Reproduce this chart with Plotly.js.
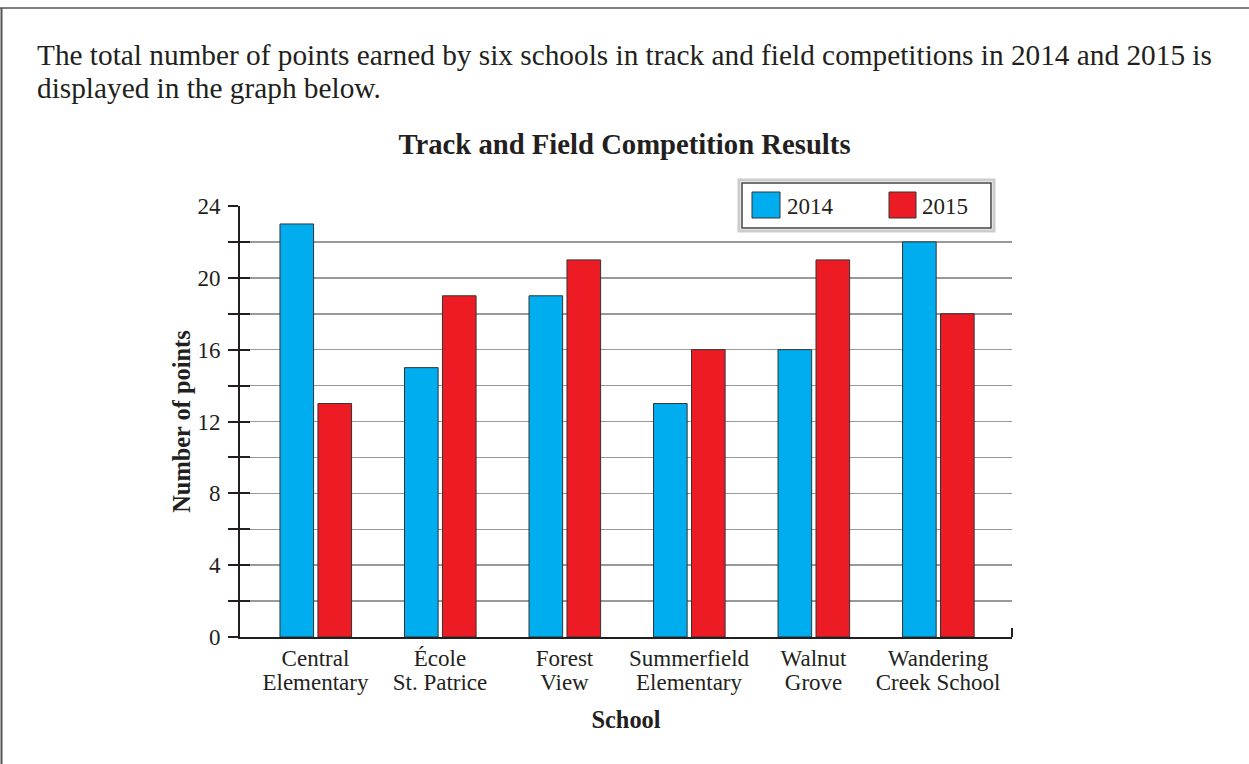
<!DOCTYPE html>
<html>
<head>
<meta charset="utf-8">
<script src="https://cdn.plot.ly/plotly-3.0.1.min.js"></script>
<style>
html,body{margin:0;padding:0;background:#fff;}
#chart{width:1249px;height:764px;}
</style>
</head>
<body>
<div id="chart"></div>
<script>
// ---- data ----
const schools = ['Central Elementary', 'École St. Patrice', 'Forest View', 'Summerfield Elementary', 'Walnut Grove', 'Wandering Creek School'];
const tickLine1 = ['Central', 'École', 'Forest', 'Summerfield', 'Walnut', 'Wandering'];
const tickLine2 = ['Elementary', 'St. Patrice', 'View', 'Elementary', 'Grove', 'Creek School'];
const points2014 = [23, 15, 19, 13, 16, 22];
const points2015 = [13, 19, 21, 16, 21, 18];
const seriesNames = ['2014', '2015'];
const yTicks = [0, 4, 8, 12, 16, 20, 24];

const chartTitle = 'Track and Field Competition Results';
const introLine1 = 'The total number of points earned by six schools in track and field competitions in 2014 and 2015 is';
const introLine2 = 'displayed in the graph below.';

// ---- style ----
const BLUE = '#00aeef', RED = '#ed1c24', INK = '#231f20', GRID = '#999999';
const FONT = 'Liberation Serif';

// plot area in pixels
const L = 240, R = 1012, T = 206, B = 637;
const px = x => (x - L) / (R - L);
const py = y => (B - y) / (B - T);

const traces = [
  {type: 'bar', name: seriesNames[0], x: schools, y: points2014, xaxis: 'x', yaxis: 'y',
   marker: {color: BLUE, line: {color: '#333', width: 1}}, width: 0.27, offset: -0.285, showlegend: false},
  {type: 'bar', name: seriesNames[1], x: schools, y: points2015, xaxis: 'x2', yaxis: 'y2',
   marker: {color: RED, line: {color: '#333', width: 1}}, width: 0.27, offset: 0.02, showlegend: false}
];

const shapes = [
  // page frame
  {type: 'line', xref: 'paper', yref: 'paper', x0: px(0), x1: px(1249), y0: py(8), y1: py(8), line: {color: '#555', width: 1.5}, layer: 'above'},
  {type: 'line', xref: 'paper', yref: 'paper', x0: px(1.5), x1: px(1.5), y0: py(8), y1: py(764), line: {color: '#555', width: 2}, layer: 'above'},
  // right end tick of x axis
  {type: 'line', xref: 'paper', yref: 'paper', x0: 1, x1: 1, y0: 0, y1: py(628), line: {color: INK, width: 2}, layer: 'above'},
  // legend box
  {type: 'rect', xref: 'paper', yref: 'paper', x0: px(739), x1: px(994), y0: py(180), y1: py(231), line: {color: '#cccccc', width: 3}, fillcolor: '#ffffff', layer: 'above'},
  {type: 'rect', xref: 'paper', yref: 'paper', x0: px(742), x1: px(991), y0: py(183), y1: py(228), line: {color: '#444', width: 1.5}, fillcolor: '#ffffff', layer: 'above'},
  {type: 'rect', xref: 'paper', yref: 'paper', x0: px(752), x1: px(780), y0: py(192), y1: py(218), line: {color: '#333', width: 1}, fillcolor: BLUE, layer: 'above'},
  {type: 'rect', xref: 'paper', yref: 'paper', x0: px(889), x1: px(916), y0: py(192), y1: py(218), line: {color: '#333', width: 1}, fillcolor: RED, layer: 'above'}
];

const annotations = [
  {xref: 'paper', yref: 'paper', x: px(35), y: py(54.5), xanchor: 'left', yanchor: 'middle', align: 'left', showarrow: false,
   text: introLine1, font: {family: FONT, size: 29.3, color: INK}},
  {xref: 'paper', yref: 'paper', x: px(35), y: py(88.5), xanchor: 'left', yanchor: 'middle', align: 'left', showarrow: false,
   text: introLine2, font: {family: FONT, size: 29.3, color: INK}},
  {xref: 'paper', yref: 'paper', x: px(785), y: py(206), xanchor: 'left', yanchor: 'middle', showarrow: false,
   text: seriesNames[0], font: {family: FONT, size: 23, color: INK}},
  {xref: 'paper', yref: 'paper', x: px(920), y: py(206), xanchor: 'left', yanchor: 'middle', showarrow: false,
   text: seriesNames[1], font: {family: FONT, size: 23, color: INK}}
];

const xRange = [-0.606, 5.594];
const layout = {
  width: 1249, height: 764,
  margin: {l: L, r: 1249 - R, t: T, b: 764 - B, pad: 0},
  paper_bgcolor: '#fff', plot_bgcolor: '#fff',
  font: {family: FONT, color: INK, size: 23},
  title: {text: '<b>' + chartTitle + '</b>', x: 0.5, xref: 'container', xanchor: 'center',
          y: 1 - 144 / 764, yref: 'container', yanchor: 'middle', font: {family: FONT, size: 28.7, color: INK}},
  xaxis: {type: 'category', range: xRange, tickvals: schools, ticktext: tickLine1,
          ticks: '', showline: true, linewidth: 2, linecolor: INK, showgrid: false, zeroline: false,
          tickfont: {family: FONT, size: 23, color: INK}, ticklabelstandoff: -1,
          title: {text: '<b>School</b>', font: {family: FONT, size: 24.4, color: INK}, standoff: 41}},
  xaxis2: {type: 'category', range: xRange, tickvals: schools, ticktext: tickLine2, overlaying: 'x', side: 'bottom', anchor: 'y2',
           ticks: '', showline: false, showgrid: false, zeroline: false,
           tickfont: {family: FONT, size: 23, color: INK}, ticklabelstandoff: 29},
  yaxis: {range: [0, 24], tickvals: yTicks, ticks: 'outside', ticklen: 10, tickwidth: 2, tickcolor: INK,
          showline: true, linewidth: 2, linecolor: INK, zeroline: false,
          showgrid: true, gridcolor: GRID, gridwidth: 1.5,
          minor: {dtick: 2, tick0: 0, ticks: 'outside', ticklen: 10, tickwidth: 2, tickcolor: INK, showgrid: true, gridcolor: GRID, gridwidth: 1.5},
          tickfont: {family: FONT, size: 23, color: INK}, ticklabelstandoff: 3,
          title: {text: '<b>Number of points</b>', font: {family: FONT, size: 24.4, color: INK}, standoff: 0}},
  yaxis2: {range: [0, 24], overlaying: 'y', side: 'left', anchor: 'x2', dtick: 2, tick0: 0, ticks: 'inside', ticklen: 10,
           tickwidth: 2, tickcolor: INK, showticklabels: false, showgrid: false, showline: false, zeroline: false},
  shapes: shapes,
  annotations: annotations
};

Plotly.newPlot('chart', traces, layout, {displayModeBar: false, staticPlot: true});
</script>
</body>
</html>
